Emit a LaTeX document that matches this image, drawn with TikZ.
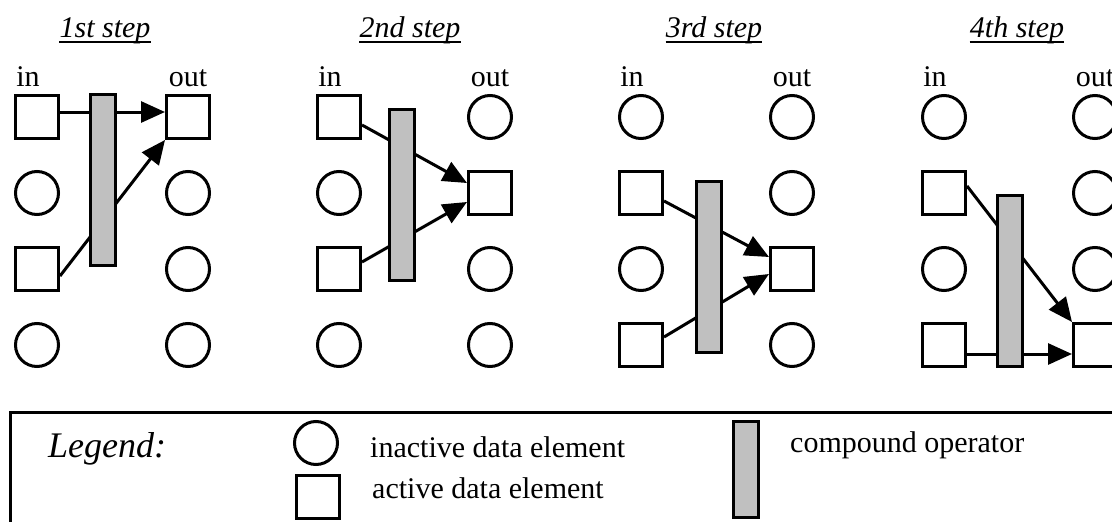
\documentclass[tikz,border=0pt]{standalone}
\usepackage{fontspec}
\setmainfont{Liberation Serif}
\usetikzlibrary{arrows.meta, positioning}
\definecolor{opgray}{RGB}{192,192,192}

\begin{document}
\begin{tikzpicture}[
    x=1pt, y=-1pt,
    node distance=30pt and 105pt, % rows and in/out columns
    every node/.style={font=\fontsize{30}{36}\selectfont},
    elem/.style={draw, line width=3pt, minimum size=43pt, inner sep=0pt},
    active/.style={elem, rectangle},
    inactive/.style={elem, circle},
    oper/.style={draw, line width=3pt, fill=opgray, minimum width=25pt, minimum height=171pt, inner sep=0pt},
    lbl/.style={inner sep=0pt, anchor=base},
    steptitle/.style={lbl, font=\fontsize{30}{36}\selectfont\itshape},
    flow/.style={line width=3pt, -{Triangle[length=24pt, width=21pt]}}
  ]
  \useasboundingbox (0,0) rectangle (1112,522);

  % Step 1 elements
  \node[active] (s1i1) at (37,117) {};
  \node[inactive, below=of s1i1] (s1i2) {};
  \node[active, below=of s1i2] (s1i3) {};
  \node[inactive, below=of s1i3] (s1i4) {};
  \node[active, right=of s1i1] (s1o1) {};
  \node[inactive, below=of s1o1] (s1o2) {};
  \node[inactive, below=of s1o2] (s1o3) {};
  \node[inactive, below=of s1o3] (s1o4) {};

  % Step 2 elements
  \node[active] (s2i1) at (339,117) {};
  \node[inactive, below=of s2i1] (s2i2) {};
  \node[active, below=of s2i2] (s2i3) {};
  \node[inactive, below=of s2i3] (s2i4) {};
  \node[inactive, right=of s2i1] (s2o1) {};
  \node[active, below=of s2o1] (s2o2) {};
  \node[inactive, below=of s2o2] (s2o3) {};
  \node[inactive, below=of s2o3] (s2o4) {};

  % Step 3 elements
  \node[inactive] (s3i1) at (641,117) {};
  \node[active, below=of s3i1] (s3i2) {};
  \node[inactive, below=of s3i2] (s3i3) {};
  \node[active, below=of s3i3] (s3i4) {};
  \node[inactive, right=of s3i1] (s3o1) {};
  \node[inactive, below=of s3o1] (s3o2) {};
  \node[active, below=of s3o2] (s3o3) {};
  \node[inactive, below=of s3o3] (s3o4) {};

  % Step 4 elements
  \node[inactive] (s4i1) at (944,117) {};
  \node[active, below=of s4i1] (s4i2) {};
  \node[inactive, below=of s4i2] (s4i3) {};
  \node[active, below=of s4i3] (s4i4) {};
  \node[inactive, right=of s4i1] (s4o1) {};
  \node[inactive, below=of s4o1] (s4o2) {};
  \node[inactive, below=of s4o2] (s4o3) {};
  \node[active, below=of s4o3] (s4o4) {};

  % Arrows (drawn before the operators, which cover them)
  \draw[flow] ([yshift=5pt]s1i1.east) -- ([yshift=5pt]s1o1.west);
  \draw[flow] ([yshift=-7pt]s1i3.east) -- (s1o1.south west);
  \draw[flow] ([yshift=-8pt]s2i1.east) -- ([yshift=10pt]s2o2.west);
  \draw[flow] ([yshift=7pt]s2i3.east) -- ([yshift=-9pt]s2o2.west);
  \draw[flow] ([yshift=-8pt]s3i2.east) -- ([yshift=12pt]s3o3.west);
  \draw[flow] ([yshift=8pt]s3i4.east) -- ([yshift=-5pt]s3o3.west);
  \draw[flow] ([yshift=7pt]s4i2.east) -- (s4o4.north west);
  \draw[flow] ([yshift=-9pt]s4i4.east) -- ([yshift=-9pt]s4o4.west);

  % Compound operators
  \node[oper] (op1) at (102.5,179.5) {};
  \node[oper] (op2) at (402,195) {};
  \node[oper] (op3) at (709,267) {};
  \node[oper] (op4) at (1010,280.5) {};

  % Titles and in/out labels
  \node[steptitle] (t1) at (105,37) {1st step};
  \node[steptitle] (t2) at (410,37) {2nd step};
  \node[steptitle] (t3) at (714,37) {3rd step};
  \node[steptitle] (t4) at (1017,37) {4th step};
  \draw[line width=1.5pt] ([yshift=-5pt]t1.base west) -- ([yshift=-5pt]t1.base east);
  \draw[line width=1.5pt] ([yshift=-5pt]t2.base west) -- ([yshift=-5pt]t2.base east);
  \draw[line width=1.5pt] ([yshift=-5pt]t3.base west) -- ([yshift=-5pt]t3.base east);
  \draw[line width=1.5pt] ([yshift=-5pt]t4.base west) -- ([yshift=-5pt]t4.base east);

  \node[lbl] (s1in) at ([xshift=-9pt, yshift=8pt]s1i1.north) {in};
  \node[lbl] (s1out) at ([yshift=8pt]s1o1.north) {out};
  \node[lbl] (s2in) at ([xshift=-9pt, yshift=8pt]s2i1.north) {in};
  \node[lbl] (s2out) at ([yshift=8pt]s2o1.north) {out};
  \node[lbl] (s3in) at ([xshift=-9pt, yshift=8pt]s3i1.north) {in};
  \node[lbl] (s3out) at ([yshift=8pt]s3o1.north) {out};
  \node[lbl] (s4in) at ([xshift=-9pt, yshift=8pt]s4i1.north) {in};
  \node[lbl] (s4out) at ([yshift=8pt]s4o1.north) {out};

  % Legend
  \node[draw, line width=3pt, minimum width=1130pt, minimum height=130pt, anchor=north west, inner sep=0pt] (legend) at (9,411) {};
  \node[lbl, anchor=base west, font=\fontsize{36}{40}\selectfont\itshape] (legtitle) at (48,457) {Legend:};
  \node[inactive] (keyin) at (316,443) {};
  \node[active] (keyact) at (318,496.5) {};
  \node[oper, minimum height=96pt] (keyop) at (746,469.5) {};
  \node[lbl, anchor=base west] (keyintxt) at (370,457) {inactive data element};
  \node[lbl, anchor=base west] (keyacttxt) at (372,498) {active data element};
  \node[lbl, anchor=base west] (keyoptxt) at (790,452) {compound operator};

\end{tikzpicture}
\end{document}
